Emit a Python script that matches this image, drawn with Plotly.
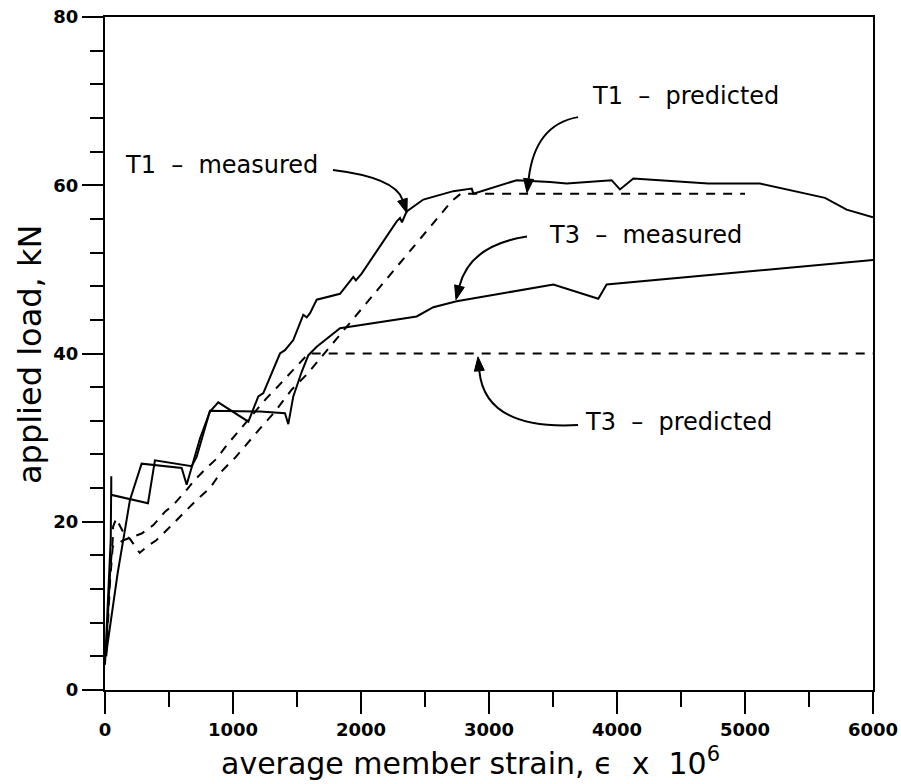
import math
import plotly.graph_objects as go

# ---- data (strain x 1e6, load kN) ----
t1_meas_x = [10, 60, 100, 150, 195, 286, 599, 638, 690, 742, 820, 885, 1120, 1198, 1237,
             1367, 1406, 1471, 1549, 1576, 1602, 1654, 1836, 1940, 1960, 2005, 2279, 2305,
             2320, 2357, 2487, 2721, 2865, 2878, 3216, 3477, 3607, 3958, 4023, 4128, 4713,
             5117, 5625, 5794, 6000]
t1_meas_y = [4.4, 10.0, 14.0, 18.5, 22.6, 26.9, 26.4, 24.4, 27.0, 29.9, 33.1, 34.2, 31.9, 34.9,
             35.3, 40.0, 40.4, 41.6, 44.6, 44.3, 44.8, 46.4, 47.1, 49.1, 48.7, 49.5, 55.7, 56.1,
             55.6, 56.9, 58.3, 59.3, 59.6, 59.0, 60.6, 60.4, 60.2, 60.6, 59.5, 60.8, 60.2,
             60.2, 58.5, 57.1, 56.2]

t3_meas_x = [0, 20, 35, 45, 49, 49, 336, 390, 677, 716, 820, 1211, 1406, 1432, 1471, 1536,
             1589, 1654, 1836, 2435, 2565, 2747, 3086, 3503, 3854, 3919, 6000]
t3_meas_y = [3.0, 9.0, 14.0, 18.0, 25.4, 23.2, 22.2, 27.3, 26.6, 27.7, 33.2, 33.1, 32.9, 31.6,
             34.9, 37.8, 39.8, 40.8, 43.0, 44.4, 45.5, 46.2, 47.1, 48.2, 46.5, 48.2, 51.1]

t1_pred_x = [10, 40, 63, 63, 88, 154, 193, 271, 323, 401, 495, 599, 716, 820, 911, 1016,
             1120, 1224, 1328, 1458, 1576, 2708, 2780, 5000]
t1_pred_y = [5.0, 14.0, 18.4, 19.4, 20.4, 18.4, 18.0, 16.3, 17.0, 17.8, 19.2, 20.8, 22.6, 24.0,
             26.0, 27.6, 29.5, 31.3, 33.1, 35.7, 37.5, 58.1, 59.0, 59.0]

t3_pred_x = [10, 40, 60, 143, 286, 378, 469, 534, 638, 703, 794, 872, 951, 1029, 1263, 1328,
             1589, 6000]
t3_pred_y = [4.0, 13.0, 17.0, 17.8, 18.6, 19.6, 21.2, 22.0, 23.8, 25.0, 26.4, 27.5, 29.1, 30.5,
             34.7, 35.7, 40.0, 40.0]

x_ticks = [0, 1000, 2000, 3000, 4000, 5000, 6000]
y_ticks = [0, 20, 40, 60, 80]

# labels: (text, x, y)
labels = [("T1\u00a0\u00a0–\u00a0\u00a0measured", 914, 62.4),
          ("T1\u00a0\u00a0–\u00a0\u00a0predicted", 4539, 70.6),
          ("T3\u00a0\u00a0–\u00a0\u00a0measured", 4219, 54.1),
          ("T3\u00a0\u00a0–\u00a0\u00a0predicted", 4477, 31.9)]
# curved leaders: start, control, tip
leaders = [((1781, 61.8), (2266, 60.9), (2359, 56.7)),
           ((3695, 68.1), (3359, 67.2), (3297, 59.1)),
           ((3297, 53.9), (2852, 52.9), (2742, 46.4)),
           ((3695, 31.5), (2969, 30.9), (2914, 39.6))]

XR = [0, 6000]
YR = [0, 80]
ML, MR, MT, MB = 105, 28, 17, 94
W, H = 901, 784
PW, PH = W - ML - MR, H - MT - MB
SX = PW / (XR[1] - XR[0])
SY = PH / (YR[1] - YR[0])

FONT = "DejaVu Sans"
fig = go.Figure()
line_kw = dict(color="black", width=2)
fig.add_trace(go.Scatter(x=t1_meas_x, y=t1_meas_y, mode="lines", line=line_kw))
fig.add_trace(go.Scatter(x=t3_meas_x, y=t3_meas_y, mode="lines", line=line_kw))
fig.add_trace(go.Scatter(x=t1_pred_x, y=t1_pred_y, mode="lines",
                         line=dict(color="black", width=2, dash="9px,8px")))
fig.add_trace(go.Scatter(x=t3_pred_x, y=t3_pred_y, mode="lines",
                         line=dict(color="black", width=2, dash="9px,8px")))

shapes = []
annotations = []
for (s, c, t) in leaders:
    dxp = (t[0] - c[0]) * SX
    dyp = -(t[1] - c[1]) * SY
    n = math.hypot(dxp, dyp)
    ux, uy = dxp / n, dyp / n
    L, HW = 14, 5
    bx, by = -ux * L, -uy * L
    px_, py_ = -uy * HW, ux * HW
    def to_d(ox, oy):
        return t[0] + ox / SX, t[1] - oy / SY
    b = to_d(bx, by)
    c1 = to_d(bx + px_, by + py_)
    c2 = to_d(bx - px_, by - py_)
    shapes.append(dict(type="path", xref="x", yref="y",
                       path=f"M {s[0]},{s[1]} Q {c[0]},{c[1]} {b[0]},{b[1]}",
                       line=dict(color="black", width=2)))
    shapes.append(dict(type="path", xref="x", yref="y",
                       path=f"M {t[0]},{t[1]} L {c1[0]},{c1[1]} L {c2[0]},{c2[1]} Z",
                       fillcolor="black", line=dict(color="black", width=1)))
for (txt, x, y) in labels:
    annotations.append(dict(x=x, y=y, xref="x", yref="y", text=txt, showarrow=False,
                            font=dict(family=FONT, size=24, color="black")))

# axis titles
annotations.append(dict(x=(470 - ML) / PW, y=(MT + PH - 761) / PH, xref="paper", yref="paper",
                        xanchor="center", yanchor="middle",
                        text="average member strain, \u03f5\u00a0\u00a0x\u00a0\u00a010<sup>6</sup>",
                        showarrow=False, font=dict(family=FONT, size=30, color="black")))
annotations.append(dict(x=(30 - ML) / PW, y=(MT + PH - 355) / PH, xref="paper", yref="paper",
                        xanchor="center", yanchor="middle",
                        text="applied load, kN", textangle=-90,
                        showarrow=False, font=dict(family=FONT, size=32, color="black")))

fig.update_layout(
    width=W, height=H,
    margin=dict(l=ML, r=MR, t=MT, b=MB),
    paper_bgcolor="white", plot_bgcolor="white",
    showlegend=False,
    shapes=shapes, annotations=annotations,
    xaxis=dict(range=XR, tickvals=x_ticks, ticktext=[f"<b>{v}</b>" for v in x_ticks],
               ticks="outside", ticklen=22, automargin=False,
               tickwidth=2, tickcolor="black", showline=True, linecolor="black",
               linewidth=2, mirror=True, showgrid=False, zeroline=False,
               tickfont=dict(family=FONT, size=18, color="black"),
               minor=dict(dtick=500, ticks="outside", ticklen=15, tickwidth=2,
                          tickcolor="black", showgrid=False)),
    yaxis=dict(range=YR, tickvals=y_ticks, ticktext=[f"<b>{v}</b>" for v in y_ticks],
               ticks="outside", ticklen=21, automargin=False,
               tickwidth=2, tickcolor="black", showline=True, linecolor="black",
               linewidth=2, mirror=True, showgrid=False, zeroline=False,
               tickfont=dict(family=FONT, size=18, color="black"),
               minor=dict(dtick=4, ticks="outside", ticklen=13, tickwidth=2,
                          tickcolor="black", showgrid=False)),
)
fig.write_html("out.html")
